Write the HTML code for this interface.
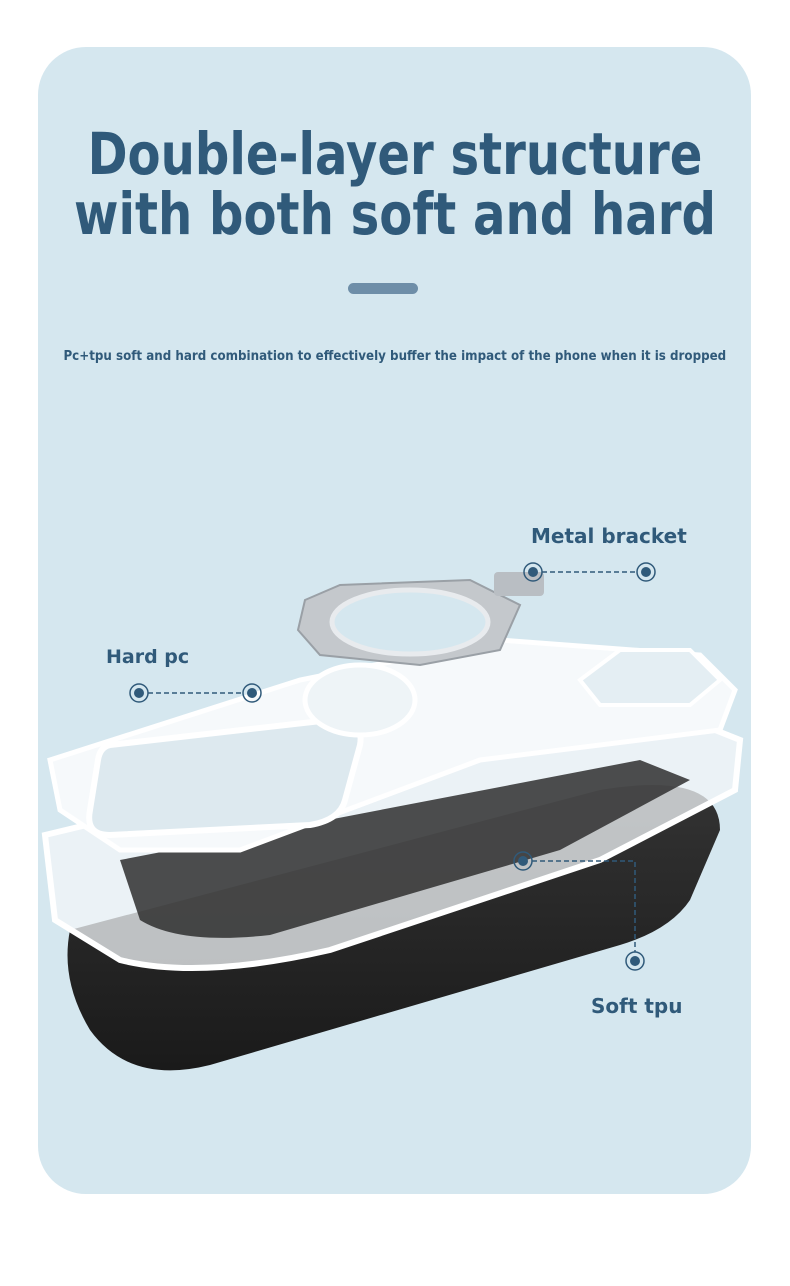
<!DOCTYPE html>
<html><head><style>
body{margin:0;width:790px;height:1286px;background:#fff;position:relative;overflow:hidden;font-family:"DejaVu Sans","Liberation Sans",sans-serif}
.card{position:absolute;left:38px;top:47px;width:713px;height:1147px;border-radius:48px;background:#d5e7ef}
h1{position:absolute;left:0;width:790px;top:124px;margin:0;text-align:center;font-size:58px;line-height:60px;font-weight:bold;color:#305a7a;transform:scaleX(0.83);transform-origin:395px 0}
.pill{position:absolute;left:348px;top:283px;width:70px;height:11px;border-radius:6px;background:#6e8ea8}
.sub{position:absolute;left:0;width:790px;top:349px;text-align:center;font-size:13px;font-weight:bold;color:#305a7a;transform:scaleX(0.915);transform-origin:393px 0}
.lbl{position:absolute;font-size:20px;font-weight:bold;color:#305a7a}
</style></head><body>
<div class="card"></div>
<h1>Double-layer structure<br>with both soft and hard</h1>
<div class="pill"></div>
<div class="sub">Pc+tpu soft and hard combination to effectively buffer the impact of the phone when it is dropped</div>
<svg width="790" height="1286" style="position:absolute;left:0;top:0">
<defs><linearGradient id="ph" x1="0" y1="0" x2="0" y2="1"><stop offset="0" stop-color="#333"/><stop offset="1" stop-color="#1a1a1a"/></linearGradient></defs>
<path d="M70 930 L600 790 Q720 770 720 830 L690 900 Q670 930 620 945 L210 1065 Q130 1085 90 1030 Q60 980 70 930Z" fill="url(#ph)"/>
<path d="M45 835 L420 745 L690 720 L740 740 L735 790 L600 860 L330 950 Q200 980 120 960 L55 920Z" fill="#f2f6f8" fill-opacity="0.75" stroke="#fff" stroke-width="6"/>
<path d="M120 860 L640 760 L690 780 L560 850 L270 935 Q180 945 140 920Z" fill="#2f2f2f" opacity="0.85"/>
<path d="M50 760 L300 680 L500 640 L700 655 L735 690 L720 730 L480 760 L240 850 L120 850 L60 810Z" fill="#f6f9fb" stroke="#fff" stroke-width="5"/>
<path d="M110 745 L330 720 Q365 718 360 745 L345 800 Q340 820 310 825 L110 835 Q85 835 90 810 L98 760 Q100 747 110 745Z" fill="#dde9ef" stroke="#fff" stroke-width="6"/>
<ellipse cx="360" cy="700" rx="55" ry="35" fill="#eef4f7" stroke="#fff" stroke-width="5"/>
<polygon points="580,680 620,650 690,650 720,680 690,705 600,705" fill="#e4eef3" stroke="#fff" stroke-width="4"/>
<polygon points="305,600 340,585 470,580 520,605 500,650 420,665 320,655 298,630" fill="#c4c8cc" stroke="#9aa0a6" stroke-width="2"/>
<ellipse cx="410" cy="622" rx="78" ry="32" fill="#d5e7ef" stroke="#e8ebee" stroke-width="5"/>
<rect x="494" y="572" width="50" height="24" rx="4" fill="#b9bec3"/>
<g fill="none" stroke="#305a7a" stroke-width="1.5">
<circle cx="533" cy="572" r="9"/><circle cx="646" cy="572" r="9"/>
<circle cx="139" cy="693" r="9"/><circle cx="252" cy="693" r="9"/>
<circle cx="523" cy="861" r="9"/><circle cx="635" cy="961" r="9"/>
<path d="M542 572H637M148 693H243M532 861H635V952" stroke-dasharray="5 3"/>
</g>
<g fill="#305a7a"><circle cx="533" cy="572" r="5"/><circle cx="646" cy="572" r="5"/><circle cx="139" cy="693" r="5"/><circle cx="252" cy="693" r="5"/><circle cx="523" cy="861" r="5"/><circle cx="635" cy="961" r="5"/></g>
</svg>
<div class="lbl" style="left:531px;top:524px">Metal bracket</div>
<div class="lbl" style="left:106px;top:646px;font-size:19px">Hard pc</div>
<div class="lbl" style="left:591px;top:994px">Soft tpu</div>
</body></html>
